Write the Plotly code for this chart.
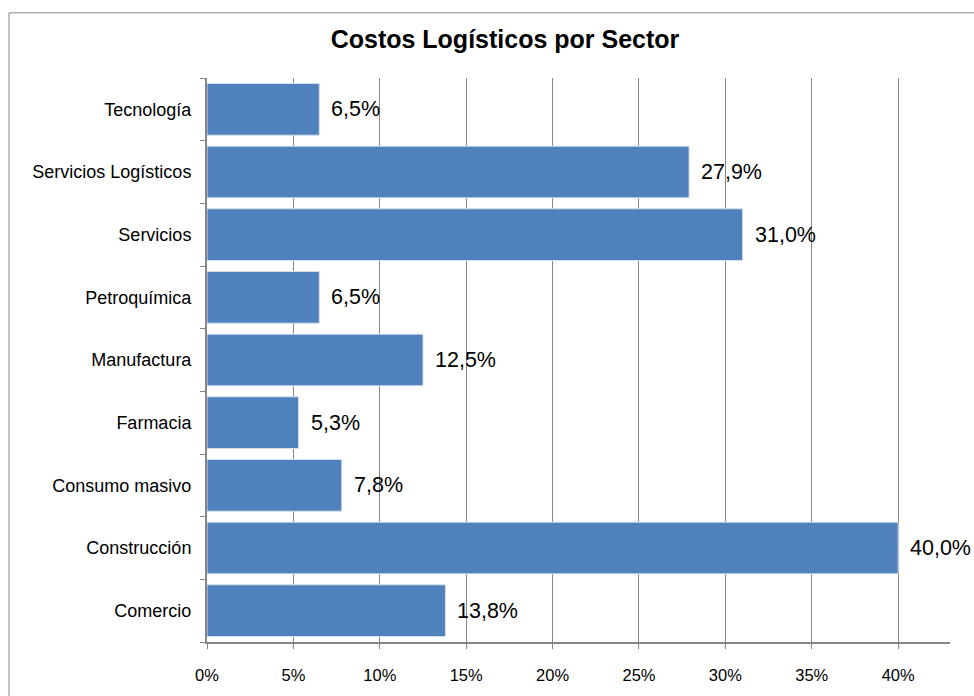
import plotly.graph_objects as go

# Sectors listed bottom-to-top, as plotted on the category axis
sectores = [
    "Comercio",
    "Construcción",
    "Consumo masivo",
    "Farmacia",
    "Manufactura",
    "Petroquímica",
    "Servicios",
    "Servicios Logísticos",
    "Tecnología",
]
costos_pct = [13.8, 40.0, 7.8, 5.3, 12.5, 6.5, 31.0, 27.9, 6.5]
ticks_x = [0, 5, 10, 15, 20, 25, 30, 35, 40]

AXIS_GRAY = "#868686"
BAR_BLUE = "#4F81BD"
FONT = "Liberation Sans, Arial, sans-serif"

fig = go.Figure()
fig.add_trace(
    go.Bar(
        x=costos_pct,
        y=sectores,
        orientation="h",
        marker=dict(color=BAR_BLUE, line=dict(color="#d6e0ee", width=1)),
        hoverinfo="skip",
    )
)

# value labels to the right of each bar
for s, v in zip(sectores, costos_pct):
    fig.add_annotation(
        x=v,
        y=s,
        text=f"{v:.1f}%".replace(".", ","),
        showarrow=False,
        xanchor="left",
        yanchor="middle",
        xshift=10,
        font=dict(family=FONT, size=21.5, color="#000000"),
    )

# outer chart frame
fig.add_shape(
    type="rect",
    xref="paper",
    yref="paper",
    x0=(9 - 207) / 743,
    x1=(990 - 207) / 743,
    y0=(645 - 720) / 567,
    y1=(645 - 12.5) / 567,
    line=dict(color=AXIS_GRAY, width=1),
    fillcolor="rgba(0,0,0,0)",
    layer="below",
)

fig.update_layout(
    width=974,
    height=696,
    margin=dict(l=207, r=24, t=78, b=51),
    paper_bgcolor="white",
    plot_bgcolor="white",
    separators=",.",
    showlegend=False,
    bargap=0.175,
    font=dict(family=FONT, size=16, color="#000000"),
    title=dict(
        text="<b>Costos Logísticos por Sector</b>",
        x=505 / 974,
        xanchor="center",
        xref="container",
        y=1 - 39 / 696,
        yanchor="middle",
        yref="container",
        font=dict(family=FONT, size=25, color="#000000"),
    ),
    xaxis=dict(
        range=[0, 43],
        tickvals=ticks_x,
        ticktext=[f"{t}%" for t in ticks_x],
        showgrid=True,
        gridcolor=AXIS_GRAY,
        gridwidth=1,
        showline=True,
        linecolor=AXIS_GRAY,
        linewidth=2,
        ticks="outside",
        ticklen=5,
        tickcolor=AXIS_GRAY,
        tickwidth=1,
        ticklabelstandoff=12,
        zeroline=False,
        tickfont=dict(family=FONT, size=16.5),
        fixedrange=True,
    ),
    yaxis=dict(
        categoryorder="array",
        categoryarray=sectores,
        showline=True,
        linecolor=AXIS_GRAY,
        linewidth=2,
        ticks="outside",
        tickson="boundaries",
        ticklen=5,
        tickcolor=AXIS_GRAY,
        tickwidth=1,
        ticklabelstandoff=10,
        showgrid=False,
        tickfont=dict(family=FONT, size=18),
        fixedrange=True,
    ),
)

fig.write_html("out.html")
